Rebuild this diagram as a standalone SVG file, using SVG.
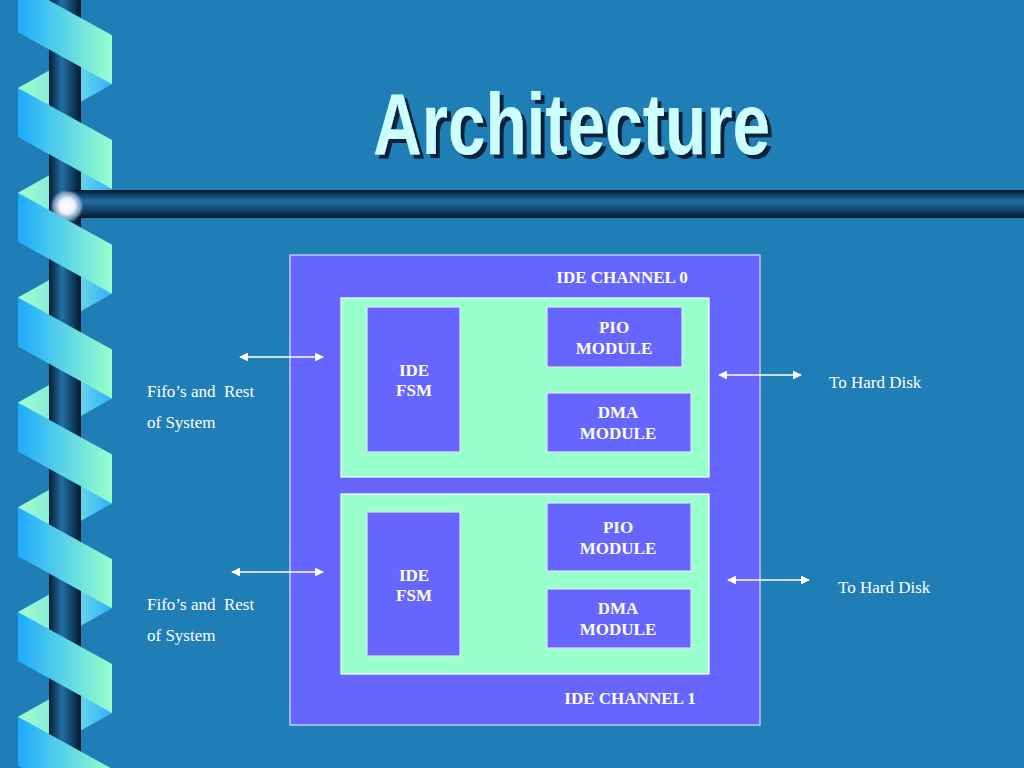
<svg xmlns="http://www.w3.org/2000/svg" xmlns:xlink="http://www.w3.org/1999/xlink" width="1024" height="768" viewBox="0 0 1024 768">
<style>
.box{fill:#6666ff;stroke:#e0e0ff;stroke-width:1.2}
.inner{fill:#99ffcc;stroke:#ffffff;stroke-width:1.2}
.lbl{font-family:"Liberation Serif","Times New Roman",serif;font-size:17px;font-weight:bold;fill:#ffffff;text-anchor:middle}
.txt{font-family:"Liberation Serif","Times New Roman",serif;font-size:17px;fill:#ffffff;white-space:pre}
.arr{stroke:#ffffff;stroke-width:1.6;fill:none;marker-start:url(#ah);marker-end:url(#ah)}
</style>
<defs>
<marker id="ah" viewBox="0 0 10 10" refX="9" refY="5" markerWidth="5.5" markerHeight="5.5" orient="auto-start-reverse" markerUnits="strokeWidth">
<path d="M0,0 L10,5 L0,10 Z" fill="#ffffff"/>
</marker>
<filter id="shadow" x="-5%" y="-10%" width="115%" height="130%">
<feFlood flood-color="#082238"/>
<feComposite in2="SourceAlpha" operator="in"/>
<feOffset dx="4" dy="4" result="sh"/>
<feMerge><feMergeNode in="sh"/><feMergeNode in="SourceGraphic"/></feMerge>
</filter>
<linearGradient id="gFront" gradientUnits="userSpaceOnUse" x1="18" y1="0" x2="112" y2="0">
<stop offset="0" stop-color="#1eaaff"/><stop offset="1" stop-color="#99ffcc"/>
</linearGradient>
<linearGradient id="gBack" gradientUnits="userSpaceOnUse" x1="18" y1="0" x2="112" y2="0">
<stop offset="0" stop-color="#a0ffcc"/><stop offset="0.55" stop-color="#7ae0e0"/><stop offset="1" stop-color="#2eb0ff"/>
</linearGradient>
<linearGradient id="gPole" x1="0" y1="0" x2="1" y2="0">
<stop offset="0" stop-color="#061c33"/><stop offset="0.4" stop-color="#236fa3"/><stop offset="0.75" stop-color="#0e3e66"/><stop offset="1" stop-color="#041628"/>
</linearGradient>
<linearGradient id="gBar" x1="0" y1="0" x2="0" y2="1">
<stop offset="0" stop-color="#031a30"/><stop offset="0.4" stop-color="#236fa3"/><stop offset="0.75" stop-color="#0e3e66"/><stop offset="1" stop-color="#041628"/>
</linearGradient>
<radialGradient id="gBall" cx="0.5" cy="0.5" r="0.5">
<stop offset="0" stop-color="#ffffff"/><stop offset="0.45" stop-color="#f0f0ff"/><stop offset="0.8" stop-color="#a0b8d8" stop-opacity="0.7"/><stop offset="1" stop-color="#5080b0" stop-opacity="0"/>
</radialGradient>
<path id="front" d="M18,0 L112,52 L112,101 L18,49 Z" fill="url(#gFront)"/>
<path id="back" d="M112,52 L18,104.8 L18,153.8 L112,101 Z" fill="url(#gBack)"/>
</defs>
<rect width="1024" height="768" fill="#1f7eb5"/>
<g id="spiral">
<g id="spiral-back">
<use xlink:href="#back" transform="translate(0,-121.6)"/>
<use xlink:href="#back" transform="translate(0,-16.8)"/>
<use xlink:href="#back" transform="translate(0,88)"/>
<use xlink:href="#back" transform="translate(0,192.8)"/>
<use xlink:href="#back" transform="translate(0,297.6)"/>
<use xlink:href="#back" transform="translate(0,402.4)"/>
<use xlink:href="#back" transform="translate(0,507.2)"/>
<use xlink:href="#back" transform="translate(0,612)"/>
<use xlink:href="#back" transform="translate(0,716.8)"/>
</g>
<rect id="pole" x="49" y="0" width="32" height="768" fill="url(#gPole)"/>
<rect id="bar" x="66" y="190" width="958" height="28" fill="url(#gBar)"/>
<circle id="ball" cx="67" cy="206" r="17" fill="url(#gBall)"/>
<g id="spiral-front">
<use xlink:href="#front" transform="translate(0,-16.8)"/>
<use xlink:href="#front" transform="translate(0,88)"/>
<use xlink:href="#front" transform="translate(0,192.8)"/>
<use xlink:href="#front" transform="translate(0,297.6)"/>
<use xlink:href="#front" transform="translate(0,402.4)"/>
<use xlink:href="#front" transform="translate(0,507.2)"/>
<use xlink:href="#front" transform="translate(0,612)"/>
<use xlink:href="#front" transform="translate(0,716.8)"/>
</g>
</g>
<g id="title">
<text x="373" y="154" textLength="397" lengthAdjust="spacingAndGlyphs" fill="#ccffff" filter="url(#shadow)" font-family="'Liberation Sans Narrow','Liberation Sans',Arial,sans-serif" font-weight="bold" font-size="88">Architecture</text>
</g>
<g id="channel0-outer">
<rect class="box" x="290" y="255" width="470" height="470"/>
</g>
<g id="channel0">
<rect class="inner" x="341" y="298" width="368" height="179"/>
<text class="lbl" x="622" y="283">IDE CHANNEL 0</text>
</g>
<g id="fsm0">
<rect class="box" x="367" y="307" width="93" height="145"/>
<text class="lbl" x="414" y="376">IDE</text>
<text class="lbl" x="414" y="396">FSM</text>
</g>
<g id="pio0">
<rect class="box" x="547" y="307" width="135" height="60"/>
<text class="lbl" x="614" y="333">PIO</text>
<text class="lbl" x="614" y="354">MODULE</text>
</g>
<g id="dma0">
<rect class="box" x="547" y="393" width="144" height="59"/>
<text class="lbl" x="618" y="418">DMA</text>
<text class="lbl" x="618" y="439">MODULE</text>
</g>
<g id="channel1">
<rect class="inner" x="341" y="494" width="368" height="180"/>
<text class="lbl" x="630" y="704">IDE CHANNEL 1</text>
</g>
<g id="fsm1">
<rect class="box" x="367" y="512" width="93" height="144"/>
<text class="lbl" x="414" y="581">IDE</text>
<text class="lbl" x="414" y="601">FSM</text>
</g>
<g id="pio1">
<rect class="box" x="547" y="503" width="144" height="68"/>
<text class="lbl" x="618" y="533">PIO</text>
<text class="lbl" x="618" y="554">MODULE</text>
</g>
<g id="dma1">
<rect class="box" x="547" y="589" width="144" height="59"/>
<text class="lbl" x="618" y="614">DMA</text>
<text class="lbl" x="618" y="635">MODULE</text>
</g>
<g id="labels">
<text class="txt" x="147" y="397" xml:space="preserve">Fifo’s and  Rest</text>
<text class="txt" x="147" y="428">of System</text>
<text class="txt" x="147" y="610" xml:space="preserve">Fifo’s and  Rest</text>
<text class="txt" x="147" y="641">of System</text>
<text class="txt" x="829" y="388">To Hard Disk</text>
<text class="txt" x="838" y="593">To Hard Disk</text>
</g>
<g id="connectors">
<line class="arr" x1="240" y1="357" x2="323" y2="357"/>
<line class="arr" x1="232" y1="572" x2="323" y2="572"/>
<line class="arr" x1="719" y1="375" x2="801" y2="375"/>
<line class="arr" x1="728" y1="580" x2="809" y2="580"/>
</g>
</svg>
